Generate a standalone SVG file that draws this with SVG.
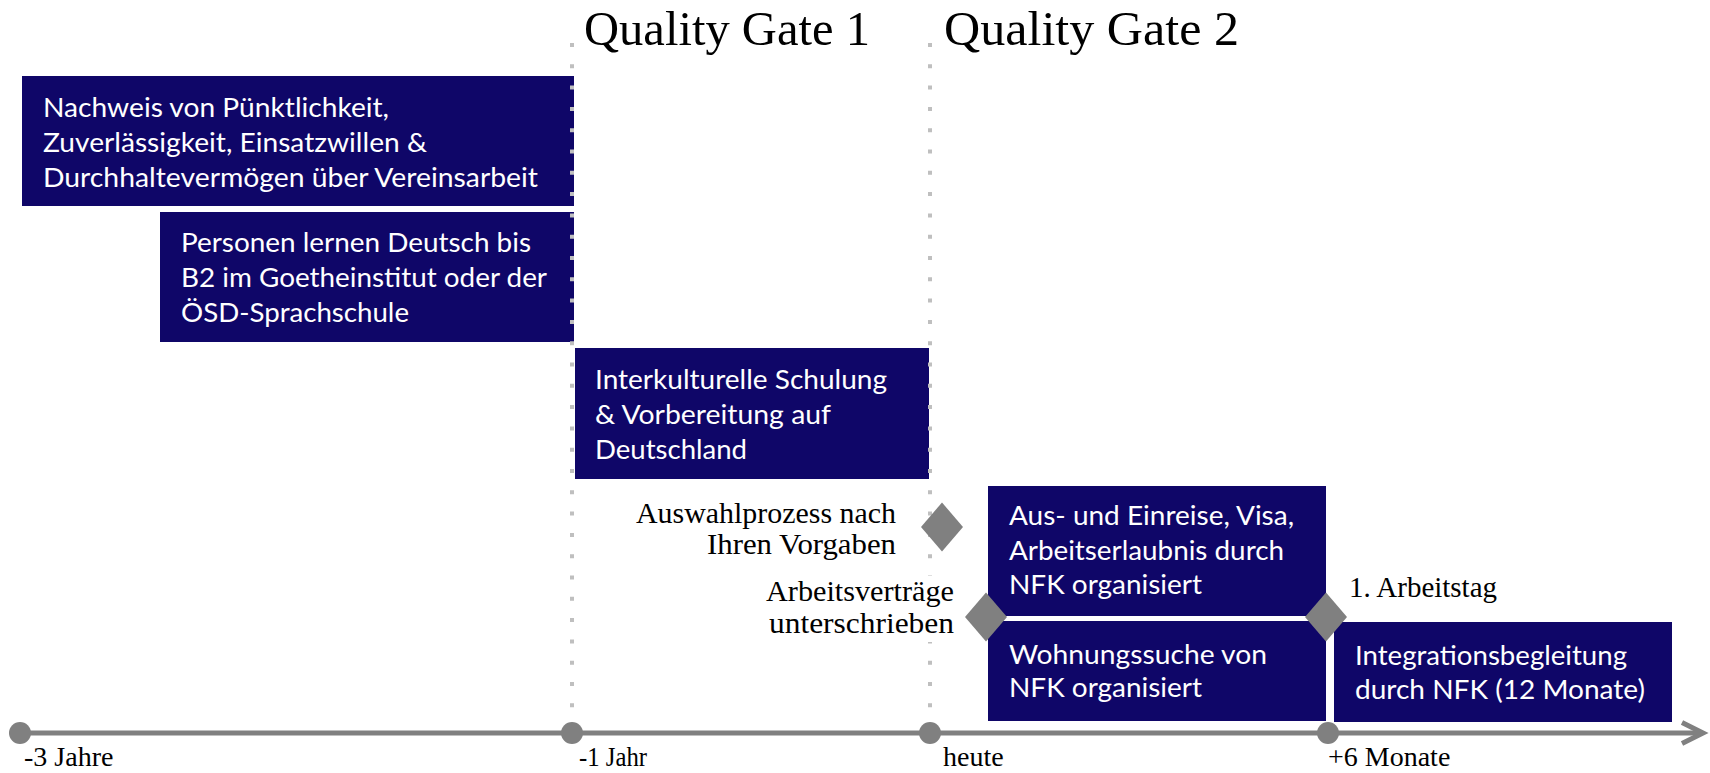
<svg xmlns="http://www.w3.org/2000/svg" width="1710" height="773" viewBox="0 0 1710 773">
<style>
.box{fill:#0f0668;}
.bt{font-family:Lato,"Liberation Sans",sans-serif;font-size:27.5px;fill:#ffffff;}
.lbl{font-family:"Liberation Serif",serif;font-size:30px;fill:#000000;}
.ax{font-family:"Liberation Serif",serif;font-size:28px;fill:#000000;}
.qg{font-family:"Liberation Serif",serif;font-size:48px;fill:#000000;}
.dot{stroke:#bfbfbf;stroke-width:4;stroke-dasharray:4 17.3;fill:none;}
.dia{fill:#808080;}
.tl{stroke:#808080;stroke-width:5;fill:none;}
.ms{fill:#808080;}
</style>
<rect width="1710" height="773" fill="#ffffff"/>
<g id="title-qg1"><text class="qg" x="584" y="45" textLength="286" lengthAdjust="spacingAndGlyphs">Quality Gate 1</text></g>
<g id="title-qg2"><text class="qg" x="944" y="45" textLength="295" lengthAdjust="spacingAndGlyphs">Quality Gate 2</text></g>
<g id="box-vereinsarbeit">
<rect class="box" x="22" y="76" width="552" height="130"/>
<text class="bt" x="43" y="117" textLength="346" lengthAdjust="spacingAndGlyphs">Nachweis von Pünktlichkeit,</text>
<text class="bt" x="43" y="152" textLength="384" lengthAdjust="spacingAndGlyphs">Zuverlässigkeit, Einsatzwillen &amp;</text>
<text class="bt" x="43" y="187" textLength="495" lengthAdjust="spacingAndGlyphs">Durchhaltevermögen über Vereinsarbeit</text>
</g>
<g id="box-deutsch">
<rect class="box" x="160" y="212" width="414" height="130"/>
<text class="bt" x="181" y="252" textLength="350" lengthAdjust="spacingAndGlyphs">Personen lernen Deutsch bis</text>
<text class="bt" x="181" y="287" textLength="366" lengthAdjust="spacingAndGlyphs">B2 im Goetheinstitut oder der</text>
<text class="bt" x="181" y="322" textLength="228" lengthAdjust="spacingAndGlyphs">ÖSD-Sprachschule</text>
</g>
<g id="box-schulung">
<rect class="box" x="575" y="348" width="354" height="131"/>
<text class="bt" x="595" y="389" textLength="292" lengthAdjust="spacingAndGlyphs">Interkulturelle Schulung</text>
<text class="bt" x="595" y="424" textLength="236" lengthAdjust="spacingAndGlyphs">&amp; Vorbereitung auf</text>
<text class="bt" x="595" y="459" textLength="152" lengthAdjust="spacingAndGlyphs">Deutschland</text>
</g>
<g id="box-einreise">
<rect class="box" x="988" y="486" width="338" height="130"/>
<text class="bt" x="1009" y="525" textLength="285" lengthAdjust="spacingAndGlyphs">Aus- und Einreise, Visa,</text>
<text class="bt" x="1009" y="560" textLength="275" lengthAdjust="spacingAndGlyphs">Arbeitserlaubnis durch</text>
<text class="bt" x="1009" y="594" textLength="193" lengthAdjust="spacingAndGlyphs">NFK organisiert</text>
</g>
<g id="box-wohnung">
<rect class="box" x="988" y="621" width="338" height="100"/>
<text class="bt" x="1009" y="664" textLength="258" lengthAdjust="spacingAndGlyphs">Wohnungssuche von</text>
<text class="bt" x="1009" y="697" textLength="193" lengthAdjust="spacingAndGlyphs">NFK organisiert</text>
</g>
<g id="box-integration">
<rect class="box" x="1334" y="622" width="338" height="100"/>
<text class="bt" x="1355" y="665" textLength="272" lengthAdjust="spacingAndGlyphs">Integrationsbegleitung</text>
<text class="bt" x="1355" y="699" textLength="290" lengthAdjust="spacingAndGlyphs">durch NFK (12 Monate)</text>
</g>
<g id="connectors">
<line class="dot" x1="572" y1="43" x2="572" y2="712"/>
<line class="dot" x1="930" y1="43" x2="930" y2="712"/>
<line class="tl" x1="20" y1="733" x2="1700" y2="733"/>
<polyline class="tl" points="1682,722.5 1703,733 1682,743.5" stroke-width="6"/>
</g>
<g id="label-auswahl">
<text class="lbl" x="896" y="523" text-anchor="end" textLength="260" lengthAdjust="spacingAndGlyphs">Auswahlprozess nach</text>
<text class="lbl" x="896" y="554" text-anchor="end" textLength="189" lengthAdjust="spacingAndGlyphs">Ihren Vorgaben</text>
</g>
<g id="label-vertraege">
<rect x="902" y="576" width="56" height="66" fill="#ffffff"/>
<text class="lbl" x="954" y="601" text-anchor="end" textLength="188" lengthAdjust="spacingAndGlyphs">Arbeitsverträge</text>
<text class="lbl" x="954" y="633" text-anchor="end" textLength="185" lengthAdjust="spacingAndGlyphs">unterschrieben</text>
</g>
<g id="label-arbeitstag"><text class="lbl" x="1349" y="597" textLength="148" lengthAdjust="spacingAndGlyphs">1. Arbeitstag</text></g>
<g id="milestone-auswahl"><polygon class="dia" points="942,502.5 963,527 942,551.5 921,527"/></g>
<g id="milestone-vertraege"><polygon class="dia" points="986,592.5 1007,617 986,641.5 965,617"/></g>
<g id="milestone-arbeitstag"><polygon class="dia" points="1326,592.5 1347,617 1326,641.5 1305,617"/></g>
<g id="tick-3jahre"><circle class="ms" cx="20" cy="733" r="11"/><text class="ax" x="24" y="766">-3 Jahre</text></g>
<g id="tick-1jahr"><circle class="ms" cx="572" cy="733" r="11"/><text class="ax" x="579" y="766" textLength="68" lengthAdjust="spacingAndGlyphs">-1 Jahr</text></g>
<g id="tick-heute"><circle class="ms" cx="930" cy="733" r="11"/><text class="ax" x="943" y="766">heute</text></g>
<g id="tick-6monate"><circle class="ms" cx="1328" cy="733" r="11"/><text class="ax" x="1328" y="766">+6 Monate</text></g>
</svg>
